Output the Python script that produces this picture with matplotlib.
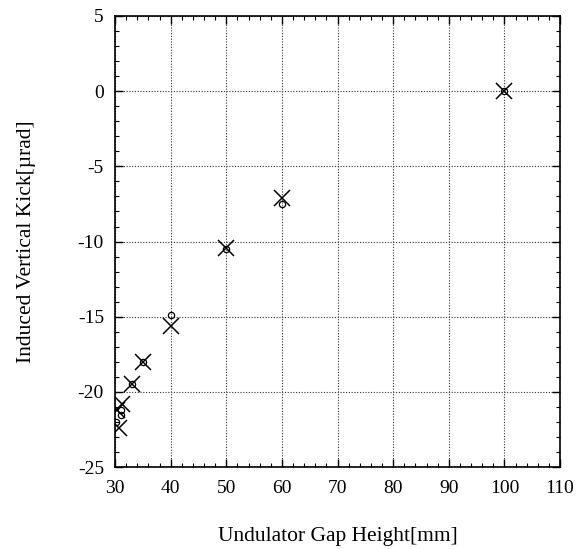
import matplotlib
matplotlib.use("Agg")
import matplotlib.pyplot as plt
from matplotlib.ticker import MultipleLocator

plt.rcParams['font.family'] = ['Liberation Serif', 'DejaVu Serif']

circle_x = [30.2, 31.0, 31.0, 33.0, 35.0, 40.0, 50.0, 60.0, 100.0]
circle_y = [-22.0, -21.5, -21.2, -19.5, -18.0, -14.9, -10.5, -7.5, 0.0]
cross_x = [30.7, 30.4, 31.2, 33.0, 35.0, 40.0, 50.0, 60.0, 100.0]
cross_y = [-22.4, -21.2, -20.8, -19.5, -18.0, -15.6, -10.4, -7.1, 0.0]

xticks = [30, 40, 50, 60, 70, 80, 90, 100, 110]
yticks = [-25, -20, -15, -10, -5, 0, 5]

fig = plt.figure(figsize=(5.78, 5.49), dpi=100)
ax = fig.add_axes([0.199, 0.149, 0.770, 0.822])

ax.plot(circle_x, circle_y, 'o', mfc='none', mec='black', ms=4.5, mew=0.9, ls='none')
ax.plot(cross_x, cross_y, 'x', color='black', ms=11, mew=1.1, ls='none')

ax.set_xlim(30, 110)
ax.set_ylim(-25, 5)
ax.set_xticks(xticks)
ax.set_yticks(yticks)
ax.set_xticklabels([str(v) for v in xticks])
ax.set_yticklabels([str(v) for v in yticks])
ax.xaxis.set_minor_locator(MultipleLocator(2))
ax.yaxis.set_minor_locator(MultipleLocator(1))
ax.tick_params(which='both', direction='in', top=True, right=True, labelsize=14)
ax.tick_params(axis='x', which='major', pad=9)
ax.tick_params(axis='y', which='major', pad=8)
ax.tick_params(which='major', length=6, width=1)
ax.tick_params(which='minor', length=3, width=0.8)
ax.grid(True, which='major', linestyle=(0, (1, 1.5)), color='#333333', linewidth=0.8)
for s in ax.spines.values():
    s.set_linewidth(1.2)

ax.set_xlabel('Undulator Gap Height[mm]', fontsize=15.5, labelpad=22)
ax.set_ylabel('Induced Vertical Kick[\u00b5rad]', fontsize=15.5, labelpad=30)

fig.savefig('out.png', dpi=100)
